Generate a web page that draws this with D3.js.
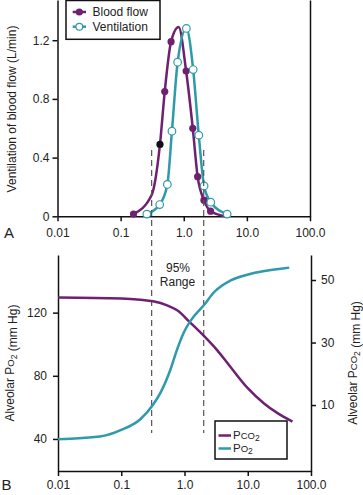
<!DOCTYPE html>
<html lang="en">
<head>
    <meta charset="UTF-8">
    <title>Ventilation / blood flow distribution</title>
    <script src="https://d3js.org/d3.v7.min.js"></script>
    <style>
        body {
            margin: 0;
            padding: 0;
            background: #fff;
        }
        svg text {
            font-family: "Liberation Sans", Arial, sans-serif;
            fill: #222;
        }
        .axis path, .axis line {
            stroke: #111;
            stroke-width: 1.5px;
        }
        .axis text {
            font-size: 12px;
        }
    </style>
</head>
<body>
    <svg width="363" height="495"></svg>

    <script>
        // shared x axis (V/Q ratio, log)
        const xTicks = [0.01, 0.1, 1, 10, 100];
        const xTickLabels = ["0.01", "0.1", "1.0", "10.0", "100.0"];

        // panel A
        const flowTicks = [0, 0.4, 0.8, 1.2];
        const flowTickLabels = ["0", "0.4", "0.8", "1.2"];

        // blood flow curve; marker: "dot" filled, "black" highlighted, "" curve point only
        const bloodFlowX = [0.16, 0.31, 0.42, 0.50, 0.63, 0.83, 1.09, 1.39, 1.66, 2.09, 2.66, 4.6];
        const bloodFlowY = [0.015, 0.145, 0.49, 0.85, 1.19, 1.29, 0.99, 0.60, 0.27, 0.11, 0.035, 0];
        const bloodFlowMark = ["dot", "", "black", "dot", "dot", "", "dot", "dot", "dot", "dot", "dot", ""];

        const ventX = [0.26, 0.416, 0.55, 0.65, 0.80, 1.10, 1.41, 1.73, 2.10, 2.68, 4.87];
        const ventY = [0.015, 0.08, 0.217, 0.58, 1.05, 1.28, 1.00, 0.553, 0.207, 0.096, 0.015];

        // 95% range bounds
        const rangeBounds = [0.31, 2.07];

        // panel B
        const po2Ticks = [40, 80, 120];
        const pco2Ticks = [10, 30, 50];

        const po2X = [0.01, 0.046, 0.1, 0.2, 0.318, 0.416, 0.60, 0.766, 0.975, 1.245, 2.10, 2.92, 5.37, 9.89, 18.2, 33.4, 45.3];
        const po2Y = [39.8, 41.5, 45.7, 52.5, 61.7, 69.2, 84.0, 96.8, 107.4, 114.8, 125.5, 132.9, 140.4, 144.0, 146.3, 147.8, 148.5];

        const pco2X = [0.01, 0.1, 0.2, 0.318, 0.53, 0.766, 1.245, 2.10, 3.30, 5.05, 10, 17.9, 29.6, 51];
        const pco2Y = [44.4, 44.1, 43.7, 43.2, 41.9, 40.3, 36.3, 31.8, 27.5, 22.8, 15.4, 10.6, 7.4, 4.7];

        const purple = "#6d2170";
        const teal = "#2e9aaa";

        const svg = d3.select("svg");

        // ---------- panel A ----------
        const xA = d3.scaleLog().domain([0.01, 100]).range([57.5, 310]);
        const yA = d3.scaleLinear().domain([0, 1.474]).range([216.3, 0]);

        svg.append("g")
            .attr("class", "axis")
            .attr("transform", "translate(0,216.3)")
            .call(d3.axisBottom(xA).tickValues(xTicks).tickSize(5).tickSizeOuter(0).tickPadding(7)
                .tickFormat((d, i) => xTickLabels[i]));

        svg.append("g")
            .attr("class", "axis")
            .attr("transform", "translate(57.5,0)")
            .call(d3.axisLeft(yA).tickValues(flowTicks).tickSize(5).tickSizeOuter(0).tickPadding(3)
                .tickFormat((d, i) => flowTickLabels[i]));

        svg.append("g")
            .attr("class", "axis")
            .attr("transform", "translate(310,0)")
            .call(d3.axisRight(yA).tickValues([]).tickSizeOuter(0));

        const lineA = d3.line()
            .x(d => xA(d[0]))
            .y(d => yA(d[1]))
            .curve(d3.curveMonotoneX);

        const bloodPts = bloodFlowX.map((x, i) => [x, bloodFlowY[i], bloodFlowMark[i]]);
        const ventPts = ventX.map((x, i) => [x, ventY[i]]);

        svg.append("path")
            .attr("d", lineA(bloodPts))
            .attr("fill", "none")
            .attr("stroke", purple)
            .attr("stroke-width", 2.5);

        svg.append("path")
            .attr("d", lineA(ventPts))
            .attr("fill", "none")
            .attr("stroke", teal)
            .attr("stroke-width", 2.5);

        svg.selectAll(".bdot")
            .data(bloodPts.filter(d => d[2] !== ""))
            .enter()
            .append("circle")
            .attr("cx", d => xA(d[0]))
            .attr("cy", d => yA(d[1]))
            .attr("r", 3.6)
            .attr("fill", d => d[2] === "black" ? "#111" : purple);

        svg.selectAll(".vdot")
            .data(ventPts)
            .enter()
            .append("circle")
            .attr("cx", d => xA(d[0]))
            .attr("cy", d => yA(d[1]))
            .attr("r", 3.8)
            .attr("fill", "#fff")
            .attr("stroke", teal)
            .attr("stroke-width", 1.2);

        // legend A
        const legA = svg.append("g");
        legA.append("rect")
            .attr("x", 66).attr("y", 0.5).attr("width", 94).attr("height", 38.8)
            .attr("fill", "#fff").attr("stroke", "#111").attr("stroke-width", 1.5);
        [["Blood flow", purple, true, 12], ["Ventilation", teal, false, 26.7]].forEach(([label, col, filled, y]) => {
            legA.append("line")
                .attr("x1", 72.7).attr("x2", 86).attr("y1", y).attr("y2", y)
                .attr("stroke", col).attr("stroke-width", 2.5);
            legA.append("circle")
                .attr("cx", 79.3).attr("cy", y).attr("r", filled ? 3.6 : 3.4)
                .attr("fill", filled ? col : "#fff")
                .attr("stroke", col).attr("stroke-width", filled ? 0 : 1.2);
            legA.append("text")
                .attr("x", 92.5).attr("y", y + 4.3)
                .style("font-size", "12px")
                .text(label);
        });

        svg.append("text")
            .attr("transform", "translate(15.5,109) rotate(-90)")
            .attr("text-anchor", "middle")
            .style("font-size", "12px")
            .text("Ventilation of blood flow (L/min)");

        svg.append("text")
            .attr("x", 4).attr("y", 237.5)
            .style("font-size", "15px")
            .text("A");

        // ---------- dashed 95% range lines ----------
        svg.selectAll(".range")
            .data(rangeBounds)
            .enter()
            .append("line")
            .attr("x1", d => xA(d)).attr("x2", d => xA(d))
            .attr("y1", 150).attr("y2", 433)
            .attr("stroke", "#555")
            .attr("stroke-width", 1.2)
            .attr("stroke-dasharray", "6,4");

        // ---------- panel B ----------
        const xB = d3.scaleLog().domain([0.01, 100]).range([58, 311]);
        const yPo2 = d3.scaleLinear().domain([19.7, 156.5]).range([471, 255]);
        const yPco2 = d3.scaleLinear().domain([-11.1, 58]).range([471, 255]);

        svg.append("g")
            .attr("class", "axis")
            .attr("transform", "translate(0,471)")
            .call(d3.axisBottom(xB).tickValues(xTicks).tickSize(5).tickSizeOuter(0).tickPadding(4.5)
                .tickFormat((d, i) => xTickLabels[i]));

        svg.append("g")
            .attr("class", "axis")
            .attr("transform", "translate(58,0)")
            .call(d3.axisLeft(yPo2).tickValues(po2Ticks).tickSize(5).tickSizeOuter(0).tickPadding(6));

        svg.append("g")
            .attr("class", "axis")
            .attr("transform", "translate(311,0)")
            .call(d3.axisRight(yPco2).tickValues(pco2Ticks).tickSize(5).tickSizeOuter(0).tickPadding(5));

        svg.append("path")
            .attr("d", d3.line().x(d => xB(d[0])).y(d => yPco2(d[1])).curve(d3.curveMonotoneX)(pco2X.map((x, i) => [x, pco2Y[i]])))
            .attr("fill", "none")
            .attr("stroke", purple)
            .attr("stroke-width", 2.5);

        svg.append("path")
            .attr("d", d3.line().x(d => xB(d[0])).y(d => yPo2(d[1])).curve(d3.curveMonotoneX)(po2X.map((x, i) => [x, po2Y[i]])))
            .attr("fill", "none")
            .attr("stroke", teal)
            .attr("stroke-width", 2.5);

        svg.append("text")
            .attr("x", 178).attr("y", 272)
            .attr("text-anchor", "middle")
            .style("font-size", "12px")
            .text("95%");
        svg.append("text")
            .attr("x", 177.5).attr("y", 286)
            .attr("text-anchor", "middle")
            .style("font-size", "12px")
            .text("Range");

        // "P" + small caps gas + subscript 2
        function gasLabel(sel, gas, sub) {
            sel.append("tspan").text("P");
            sel.append("tspan").style("font-size", "9.5px").text(gas);
            sel.append("tspan").style("font-size", "8.5px").attr("dy", sub).text("2");
            sel.append("tspan").attr("dy", -sub).text("");
        }

        const yLabL = svg.append("text")
            .attr("transform", "translate(13.5,363) rotate(-90)")
            .attr("text-anchor", "middle")
            .style("font-size", "12px");
        yLabL.append("tspan").text("Alveolar ");
        gasLabel(yLabL, "O", 3);
        yLabL.append("tspan").text(" (mm Hg)");

        const yLabR = svg.append("text")
            .attr("transform", "translate(357,363) rotate(-90)")
            .attr("text-anchor", "middle")
            .style("font-size", "12px");
        yLabR.append("tspan").text("Alveolar ");
        gasLabel(yLabR, "CO", 3);
        yLabR.append("tspan").text(" (mm Hg)");

        // legend B
        const legB = svg.append("g");
        legB.append("rect")
            .attr("x", 215).attr("y", 421).attr("width", 72).attr("height", 38)
            .attr("fill", "#fff").attr("stroke", "#111").attr("stroke-width", 1.5);
        [["CO", purple, 435.5], ["O", teal, 448.5]].forEach(([gas, col, y]) => {
            legB.append("line")
                .attr("x1", 218.5).attr("x2", 231).attr("y1", y).attr("y2", y)
                .attr("stroke", col).attr("stroke-width", 2.5);
            const t = legB.append("text")
                .attr("x", 233).attr("y", y + 3.5)
                .style("font-size", "11.5px");
            gasLabel(t, gas, 2);
        });

        svg.append("text")
            .attr("x", 1.5).attr("y", 489.5)
            .style("font-size", "15px")
            .text("B");
    </script>
</body>
</html>
